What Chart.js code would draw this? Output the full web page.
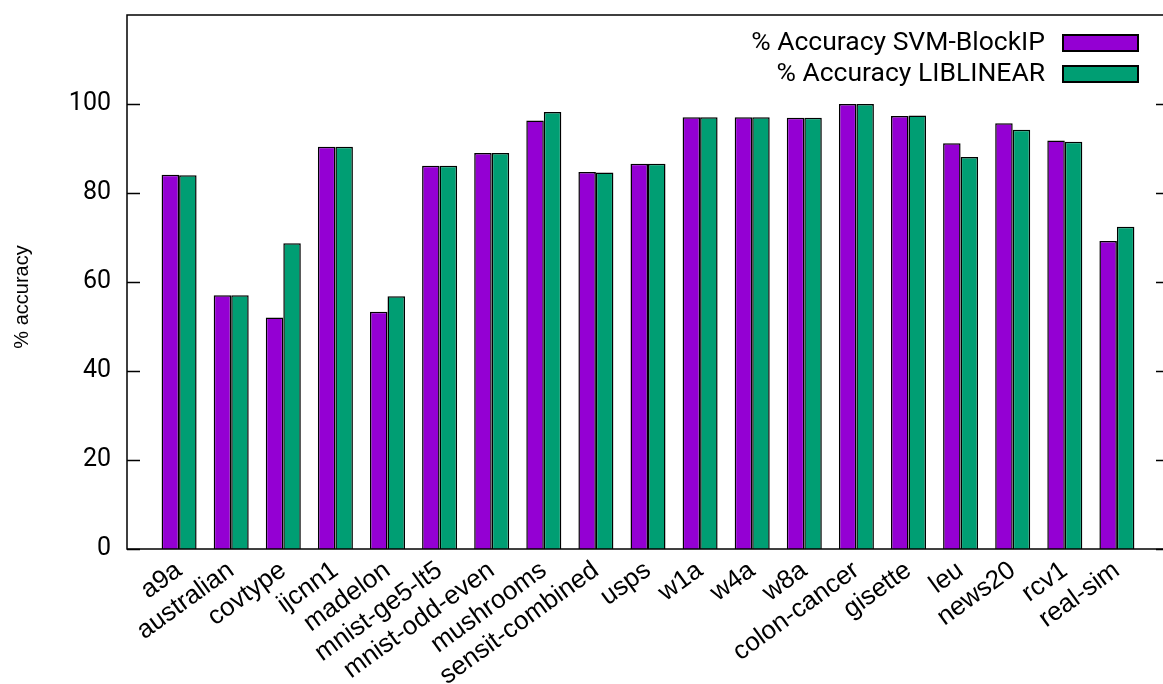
<!DOCTYPE html>
<html><head><meta charset="utf-8">
<script src="https://cdn.jsdelivr.net/npm/chart.js@4/dist/chart.umd.min.js"></script>
<style>
html,body{margin:0;padding:0;background:#fff;overflow:hidden;width:1163px;height:684px}
#wrap{position:absolute;left:0;top:0;width:1180px;height:684px}
</style></head>
<body><div id="wrap"><canvas id="c" width="1180" height="684"></canvas></div>
<script>
const categories = ["a9a","australian","covtype","ijcnn1","madelon","mnist-ge5-lt5","mnist-odd-even","mushrooms","sensit-combined","usps","w1a","w4a","w8a","colon-cancer","gisette","leu","news20","rcv1","real-sim"];
const svmBlockIP = [84.1,57.0,52.0,90.4,53.3,86.1,89.0,96.3,84.7,86.6,97.0,97.0,96.9,100.0,97.3,91.2,95.7,91.8,69.2];
const liblinear  = [84.0,57.0,68.7,90.4,56.8,86.1,89.0,98.2,84.6,86.6,97.0,97.0,96.9,100.0,97.4,88.1,94.2,91.5,72.4];
const seriesNames = ["% Accuracy SVM-BlockIP","% Accuracy LIBLINEAR"];
const yTicks = [0,20,40,60,80,100];
const yTitle = "% accuracy";

const frame = {
  id: 'frame',
  afterDatasetsDraw(chart) {
    const {ctx, chartArea: a, scales: {y}} = chart;
    ctx.save();
    ctx.strokeStyle = '#000';
    ctx.lineWidth = 1.5;
    ctx.strokeRect(a.left, a.top, a.right - a.left, a.bottom - a.top);
    ctx.beginPath();
    y.ticks.forEach(t => {
      const py = Math.round(y.getPixelForValue(t.value)) + 0.5;
      ctx.moveTo(a.left, py); ctx.lineTo(a.left + 13, py);
      ctx.moveTo(a.right, py); ctx.lineTo(a.right - 13, py);
    });
    ctx.stroke();
    // y title
    ctx.save();
    ctx.translate(22, 297);
    ctx.rotate(-Math.PI / 2);
    ctx.font = '20px "Liberation Sans"';
    ctx.fillStyle = '#000';
    ctx.textAlign = 'center';
    ctx.textBaseline = 'middle';
    ctx.fillText(yTitle, 0, 0);
    ctx.restore();
    // legend
    ctx.font = '26.5px Roboto';
    ctx.textAlign = 'right';
    ctx.textBaseline = 'middle';
    chart.data.datasets.forEach((ds, i) => {
      const cy = 43 + i * 31;
      ctx.fillStyle = '#000';
      ctx.fillText(ds.label, 1045, cy);
      ctx.fillStyle = ds.backgroundColor;
      ctx.fillRect(1063, cy - 8, 75, 16);
      ctx.lineWidth = 2;
      ctx.strokeRect(1063, cy - 8, 75, 16);
    });
    ctx.restore();
  }
};

const mk = arr => arr.map((v, i) => ({x: i, y: v}));

new Chart(document.getElementById('c'), {
  type: 'bar',
  data: {
    datasets: [
      {label: seriesNames[0], data: mk(svmBlockIP), backgroundColor: '#9400d3', borderColor: '#000', borderWidth: 1.5, barPercentage: 1, categoryPercentage: 0.672},
      {label: seriesNames[1], data: mk(liblinear), backgroundColor: '#009e73', borderColor: '#000', borderWidth: 1.5, barPercentage: 1, categoryPercentage: 0.672}
    ]
  },
  options: {
    responsive: false,
    animation: false,
    devicePixelRatio: 1,
    layout: {padding: {top: 15, left: 0, right: 11, bottom: 0}},
    plugins: {legend: {display: false}, tooltip: {enabled: false}},
    scales: {
      x: {
        type: 'linear', min: -1, max: 19, offset: false,
        grid: {display: false, drawTicks: false},
        border: {display: false},
        afterBuildTicks: s => { s.ticks = categories.map((c, i) => ({value: i})); },
        afterFit: s => { s.height = 684 - 549; s.paddingLeft = 0; s.paddingRight = 0; },
        ticks: {
          autoSkip: false, minRotation: 36, maxRotation: 36, padding: 6,
          color: '#000', font: {family: 'Liberation Sans', size: 26},
          callback: v => categories[v]
        }
      },
      y: {
        min: 0, max: 120,
        grid: {display: false, drawTicks: false},
        border: {display: false},
        afterBuildTicks: s => { s.ticks = yTicks.map(v => ({value: v})); },
        afterFit: s => { s.width = 127; s.paddingTop = 0; s.paddingBottom = 0; },
        ticks: {padding: 16, color: '#000', font: {family: 'Roboto', size: 25}}
      }
    }
  },
  plugins: [frame]
});
</script></body></html>
